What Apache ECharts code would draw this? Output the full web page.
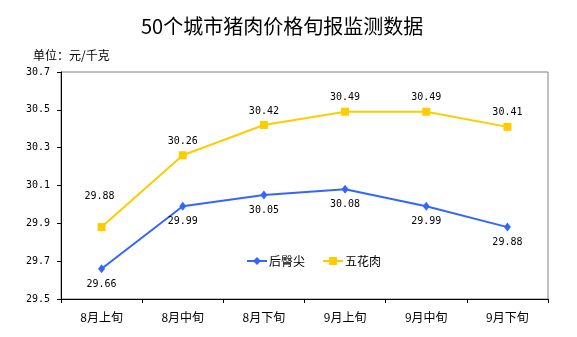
<!DOCTYPE html>
<html>
<head>
<meta charset="utf-8">
<script src="https://cdn.jsdelivr.net/npm/echarts@6/dist/echarts.min.js"></script>
<style>html,body{margin:0;padding:0;background:#fff}#c{width:577px;height:337px}</style>
</head>
<body>
<div id="c"></div>
<script>
const categories = ['8月上旬','8月中旬','8月下旬','9月上旬','9月中旬','9月下旬'];
const houtunjian = [29.66, 29.99, 30.05, 30.08, 29.99, 29.88];
const wuhuarou = [29.88, 30.26, 30.42, 30.49, 30.49, 30.41];
const yTicks = [29.5, 29.7, 29.9, 30.1, 30.3, 30.5, 30.7];
const titleText = '50个城市猪肉价格旬报监测数据';
const unitText = '单位：元/千克';

const numFont = 'DejaVu Sans Mono';
const cjkFont = 'Noto Sans CJK SC';

const chart = echarts.init(document.getElementById('c'), null, {renderer: 'canvas'});
chart.setOption({
  animation: false,
  backgroundColor: '#fff',
  title: [
    {text: titleText, left: 136, top: 11,
     textStyle: {fontFamily: cjkFont, fontSize: 20, fontWeight: 'normal', color: '#000'}},
    {text: unitText, left: 28, top: 44,
     textStyle: {fontFamily: cjkFont, fontSize: 12, fontWeight: 'normal', color: '#000'}}
  ],
  legend: {
    left: 241, top: 250, itemWidth: 20, itemHeight: 10, itemGap: 17,
    textStyle: {fontFamily: cjkFont, fontSize: 12, color: '#000', padding: [0,0,0,-3]},
    data: ['后臀尖', '五花肉']
  },
  grid: {left: 61, right: 29, top: 72, bottom: 38, show: true, borderColor: '#808080', borderWidth: 1, containLabel: false},
  xAxis: {
    type: 'category', data: categories, boundaryGap: true,
    axisLine: {lineStyle: {color: '#000', width: 1}},
    axisTick: {show: true, length: 4, lineStyle: {color: '#000'}},
    axisLabel: {fontFamily: cjkFont, fontSize: 12, color: '#000', margin: 12},
    splitLine: {show: false}
  },
  yAxis: {
    type: 'value', min: 29.5, max: 30.7,
    axisLine: {show: true, lineStyle: {color: '#000', width: 1}},
    axisTick: {show: true, length: 4, lineStyle: {color: '#000'}, customValues: yTicks},
    axisLabel: {fontFamily: numFont, fontSize: 10, color: '#000', margin: 11,
      customValues: yTicks, formatter: v => Number(v).toFixed(1)},
    splitLine: {show: false}
  },
  series: [
    {
      name: '后臀尖', type: 'line', data: houtunjian,
      symbol: 'diamond', symbolSize: [7, 9],
      lineStyle: {color: '#3366FF', width: 2},
      itemStyle: {color: '#3366FF'},
      label: {show: true, position: 'bottom', distance: 6, fontFamily: numFont, fontSize: 10, color: '#000',
        formatter: p => p.value.toFixed(2)}
    },
    {
      name: '五花肉', type: 'line',
      data: wuhuarou.map((v, i) => i === 0 ? {value: v, label: {offset: [-2, -17]}} : v),
      symbol: 'rect', symbolSize: 8,
      lineStyle: {color: '#FFCC00', width: 2},
      itemStyle: {color: '#FFCC00'},
      label: {show: true, position: 'top', distance: 5, fontFamily: numFont, fontSize: 10, color: '#000',
        formatter: p => p.value.toFixed(2)}
    }
  ]
});
</script>
</body>
</html>
